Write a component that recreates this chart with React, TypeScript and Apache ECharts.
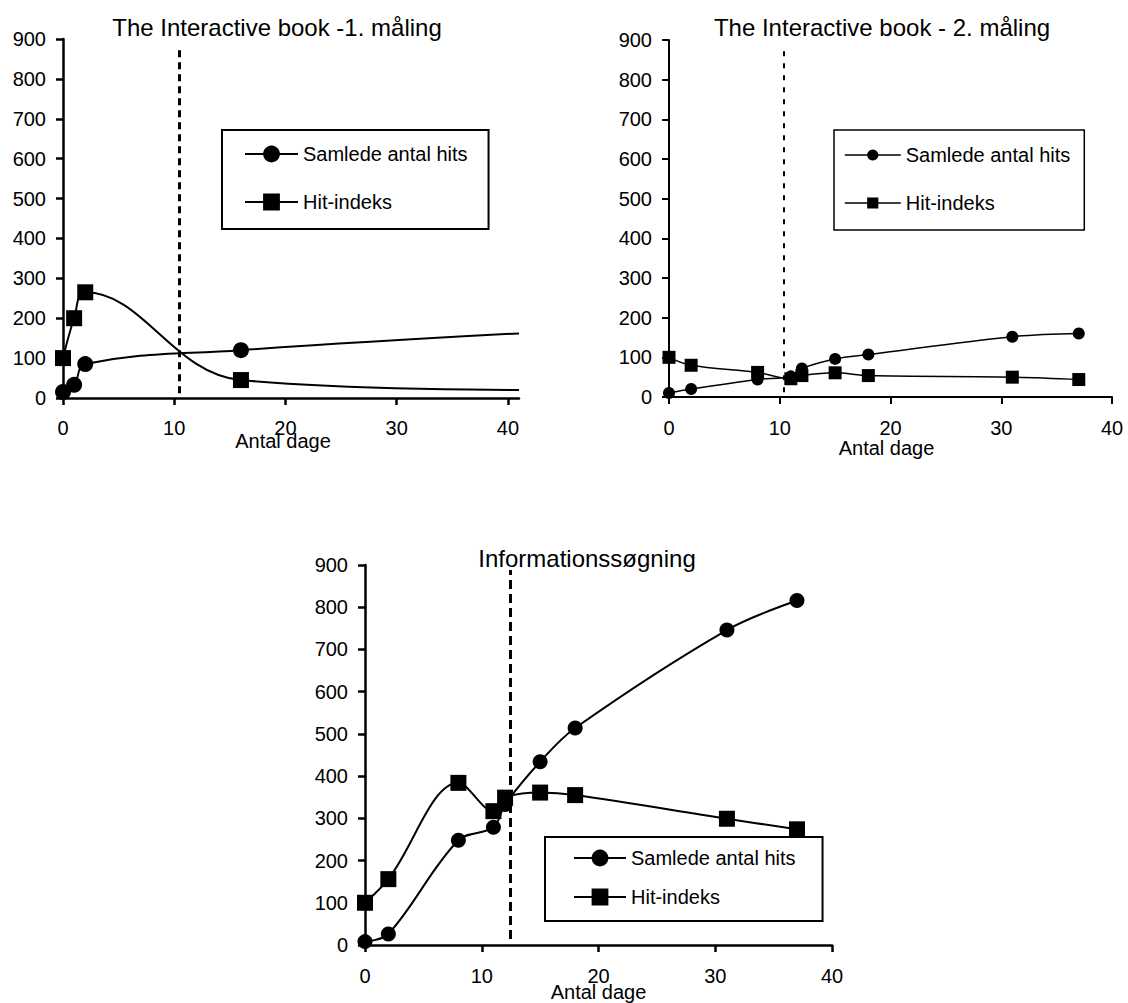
import React, { useEffect, useRef } from 'react';
import * as echarts from 'echarts';

const FONT = "'Liberation Sans', Arial, Helvetica, sans-serif";

const seriesNames = ['Samlede antal hits', 'Hit-indeks'];
const titles = ['The Interactive book -1. måling', 'The Interactive book - 2. måling', 'Informationssøgning'];
const axisName = 'Antal dage';
const xTickValues = [0, 10, 20, 30, 40];
const yMax = 900;
const yInterval = 100;

// Chart 1 (the last point is where the curves leave the visible plot area)
const c1Days = [0, 1, 2, 16, 41];
const c1Hits = [15, 33, 85, 120, 162];
const c1Index = [100, 200, 265, 45, 20];
const c1Marker = [true, true, true, true, false];

// Chart 2
const c2Days = [0, 2, 8, 11, 12, 15, 18, 31, 37];
const c2Hits = [10, 20, 44, 52, 72, 96, 107, 152, 160];
const c2Index = [100, 80, 62, 46, 54, 61, 54, 50, 44];

// Chart 3
const c3Days = [0, 2, 8, 11, 12, 15, 18, 31, 37];
const c3Hits = [8, 26, 248, 279, 333, 434, 514, 746, 816];
const c3Index = [100, 156, 384, 317, 349, 361, 355, 299, 274];

// vertical dotted divider lines: [day, from, to]
const dividers = [
  [10.45, 12, 872],
  [10.4, 12, 878],
  [12.4, 14, 888],
];

const xMaxes = [41, 40, 40];

const layouts = [
  {
    grid: { left: 63, top: 39, width: 456, height: 359 },
    axisW: 2.5, lineW: 2, circle: 16, square: 16, nameGap: 33, namePad: [0, 16, 0, 0], labelMargin: 20,
    dash: [7, 5], dashW: 3, smooth: 0.4,
    title: { x: 277, y: 27 },
    legend: { left: 222, top: 130, padding: [14, 21, 17, 22], itemWidth: 53, itemHeight: 21, itemGap: 28, borderWidth: 2 },
  },
  {
    grid: { left: 669, top: 40, width: 443, height: 357 },
    axisW: 2, lineW: 1.5, circle: 12, square: 13, nameGap: 41, namePad: [0, 8, 0, 0], labelMargin: 21,
    dash: [5, 7], dashW: 2, smooth: 0.35,
    title: { x: 882, y: 27 },
    legend: { left: 834, top: 130, padding: [15, 14, 17, 10], itemWidth: 56, itemHeight: 14, itemGap: 28, borderWidth: 1.5 },
  },
  {
    grid: { left: 365, top: 565, width: 467, height: 381 },
    axisW: 2.5, lineW: 2, circle: 15, square: 16, nameGap: 37, namePad: [0, 0, 0, 0], labelMargin: 21,
    dash: [9, 5], dashW: 3, smooth: 0.35,
    title: { x: 587, y: 558 },
    legend: { left: 545, top: 837, padding: [11, 27, 14, 28], itemWidth: 52, itemHeight: 21, itemGap: 19, borderWidth: 2 },
  },
];

function buildOption() {
  const datasets = [
    { days: c1Days, hits: c1Hits, index: c1Index, marker: c1Marker },
    { days: c2Days, hits: c2Hits, index: c2Index, marker: null as boolean[] | null },
    { days: c3Days, hits: c3Hits, index: c3Index, marker: null as boolean[] | null },
  ];

  const grids: any[] = [];
  const xAxes: any[] = [];
  const yAxes: any[] = [];
  const series: any[] = [];
  const legends: any[] = [];
  const graphics: any[] = [];

  layouts.forEach((L, i) => {
    grids.push({ ...L.grid, containLabel: false });
    xAxes.push({
      type: 'value',
      gridIndex: i,
      min: 0,
      max: xMaxes[i],
      interval: 10,
      name: axisName,
      nameLocation: 'middle',
      nameGap: L.nameGap,
      nameMoveOverlap: false,
      nameTextStyle: { color: '#000', fontSize: 20, fontFamily: FONT, padding: L.namePad },
      axisLine: { show: true, onZero: false, lineStyle: { color: '#000', width: L.axisW } },
      axisTick: { show: true, inside: false, length: 7, customValues: xTickValues, lineStyle: { color: '#000', width: L.axisW } },
      axisLabel: { color: '#000', fontSize: 20, fontFamily: FONT, margin: L.labelMargin, customValues: xTickValues },
      splitLine: { show: false },
    });
    yAxes.push({
      type: 'value',
      gridIndex: i,
      min: 0,
      max: yMax,
      interval: yInterval,
      axisLine: { show: true, onZero: false, lineStyle: { color: '#000', width: L.axisW } },
      axisTick: { show: true, inside: false, length: 7, lineStyle: { color: '#000', width: L.axisW } },
      axisLabel: { color: '#000', fontSize: 20, fontFamily: FONT, margin: 17 },
      splitLine: { show: false },
    });

    const D = datasets[i];
    const mk = (vals: number[]) =>
      D.days.map((d, k) =>
        D.marker && !D.marker[k] ? { value: [d, vals[k]], symbol: 'none' } : [d, vals[k]]
      );

    const dv = dividers[i];
    series.push({
      name: seriesNames[0],
      type: 'line',
      xAxisIndex: i,
      yAxisIndex: i,
      data: mk(D.hits),
      smooth: L.smooth,
      symbol: 'circle',
      symbolSize: L.circle,
      showSymbol: true,
      clip: true,
      lineStyle: { color: '#000', width: L.lineW },
      itemStyle: { color: '#000' },
      markLine: {
        silent: true,
        symbol: ['none', 'none'],
        label: { show: false },
        lineStyle: { color: '#000', type: L.dash, width: L.dashW },
        emphasis: { disabled: true },
        data: [[{ coord: [dv[0], dv[1]] }, { coord: [dv[0], dv[2]] }]],
      },
    });
    series.push({
      name: seriesNames[1],
      type: 'line',
      xAxisIndex: i,
      yAxisIndex: i,
      data: mk(D.index),
      smooth: L.smooth,
      symbol: 'rect',
      symbolSize: L.square,
      showSymbol: true,
      clip: true,
      lineStyle: { color: '#000', width: L.lineW },
      itemStyle: { color: '#000' },
    });

    legends.push({
      show: true,
      orient: 'vertical',
      left: L.legend.left,
      top: L.legend.top,
      padding: L.legend.padding,
      itemWidth: L.legend.itemWidth,
      itemHeight: L.legend.itemHeight,
      itemGap: L.legend.itemGap,
      backgroundColor: '#fff',
      borderColor: '#000',
      borderWidth: L.legend.borderWidth,
      borderRadius: 0,
      selectedMode: false,
      lineStyle: { width: L.lineW, color: '#000' },
      itemStyle: { color: '#000' },
      textStyle: { color: '#000', fontSize: 20, fontFamily: FONT, lineHeight: 20 },
      data: seriesNames,
      z: 10,
    });

    graphics.push({
      type: 'text',
      x: L.title.x,
      y: L.title.y,
      style: {
        text: titles[i],
        fill: '#000',
        font: `24px ${FONT}`,
        align: 'center',
        verticalAlign: 'middle',
      },
    });
  });

  return {
    animation: false,
    backgroundColor: '#fff',
    textStyle: { fontFamily: FONT },
    grid: grids,
    xAxis: xAxes,
    yAxis: yAxes,
    legend: legends,
    series,
    graphic: graphics,
  };
}

export default function App() {
  const ref = useRef<HTMLDivElement>(null);
  useEffect(() => {
    if (!ref.current) return;
    const chart = echarts.init(ref.current, undefined, { renderer: 'svg' });
    chart.setOption(buildOption() as any);
    return () => chart.dispose();
  }, []);
  return (
    <div
      ref={ref}
      style={{ position: 'absolute', left: 0, top: 0, width: 1128, height: 1003, background: '#fff' }}
    />
  );
}
